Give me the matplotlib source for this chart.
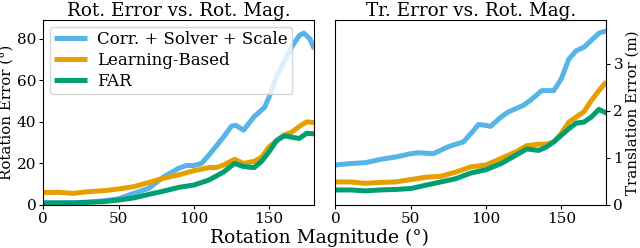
import matplotlib
matplotlib.use("Agg")
import matplotlib.pyplot as plt

plt.rcParams['font.family'] = ['DejaVu Serif']

labels = ["Corr. + Solver + Scale", "Learning-Based", "FAR"]
colors = ["#56B4E9", "#E69F00", "#009E73"]

# Left panel: rotation error vs rotation magnitude
rot_x_blue = [0, 10, 20, 30, 40, 50, 60, 70, 80, 90, 95, 100, 105, 110, 120, 125, 128, 133, 140, 147, 150, 155, 160, 165, 170, 173, 177, 180]
rot_blue = [1.0, 1.0, 1.1, 1.4, 2.0, 3.0, 5.6, 8.0, 13.6, 17.7, 19.0, 19.0, 20.0, 24.0, 33.0, 38.0, 38.3, 36.0, 42.5, 47.0, 52.0, 62.0, 69.0, 76.0, 81.5, 82.7, 80.0, 75.0]
rot_x_orange = [0, 10, 20, 30, 40, 50, 60, 70, 80, 90, 100, 110, 115, 120, 127, 133, 140, 145, 150, 155, 160, 165, 170, 175, 180]
rot_orange = [6.0, 6.1, 5.6, 6.4, 6.9, 7.7, 8.8, 10.8, 12.9, 14.5, 16.5, 18.0, 18.0, 19.3, 22.0, 20.0, 21.0, 23.0, 28.0, 31.0, 33.7, 35.0, 37.8, 40.0, 39.6]
rot_x_green = [0, 10, 20, 30, 40, 50, 60, 70, 80, 90, 100, 110, 120, 127, 133, 140, 145, 150, 155, 160, 165, 170, 175, 180]
rot_green = [1.0, 1.0, 1.0, 1.3, 1.6, 2.4, 3.4, 5.1, 6.7, 8.5, 9.6, 12.0, 16.0, 20.0, 18.5, 18.0, 21.0, 25.7, 31.0, 33.3, 32.6, 32.0, 34.5, 34.2]

# Right panel: translation error vs rotation magnitude
tr_x_blue = [0, 10, 20, 30, 40, 50, 55, 65, 75, 85, 90, 95, 100, 103, 110, 115, 125, 130, 137, 145, 150, 155, 160, 165, 170, 175, 180]
tr_blue = [0.85, 0.88, 0.90, 0.97, 1.02, 1.09, 1.11, 1.09, 1.24, 1.34, 1.52, 1.71, 1.69, 1.67, 1.87, 1.98, 2.12, 2.24, 2.43, 2.43, 2.68, 3.10, 3.28, 3.35, 3.50, 3.65, 3.70]
tr_x_orange = [0, 10, 20, 30, 40, 50, 60, 70, 80, 90, 100, 110, 120, 127, 135, 140, 145, 150, 155, 160, 165, 170, 175, 180]
tr_orange = [0.49, 0.49, 0.46, 0.48, 0.49, 0.54, 0.59, 0.61, 0.70, 0.81, 0.85, 0.99, 1.13, 1.26, 1.29, 1.29, 1.34, 1.52, 1.76, 1.87, 1.98, 2.22, 2.43, 2.62]
tr_x_green = [0, 10, 20, 30, 40, 50, 60, 70, 80, 90, 100, 110, 120, 127, 135, 140, 145, 150, 155, 160, 165, 170, 175, 180]
tr_green = [0.32, 0.32, 0.30, 0.32, 0.33, 0.35, 0.42, 0.49, 0.56, 0.68, 0.75, 0.88, 1.06, 1.19, 1.16, 1.23, 1.34, 1.48, 1.62, 1.74, 1.76, 1.87, 2.03, 1.95]

x_ticks = [0, 50, 100, 150]

fig = plt.figure(figsize=(6.4, 2.48), dpi=100)
ax1 = fig.add_axes([0.0677, 0.1734, 0.4234, 0.746])
ax2 = fig.add_axes([0.5242, 0.1734, 0.4234, 0.746])

lw = 3.6
for xs, ys, c, l in [(rot_x_blue, rot_blue, colors[0], labels[0]),
                     (rot_x_orange, rot_orange, colors[1], labels[1]),
                     (rot_x_green, rot_green, colors[2], labels[2])]:
    ax1.plot(xs, ys, color=c, lw=lw, label=l, solid_capstyle='butt', solid_joinstyle='round')
for xs, ys, c in [(tr_x_blue, tr_blue, colors[0]),
                  (tr_x_orange, tr_orange, colors[1]),
                  (tr_x_green, tr_green, colors[2])]:
    ax2.plot(xs, ys, color=c, lw=lw, solid_capstyle='butt', solid_joinstyle='round')

ax1.set_xlim(0, 180)
ax1.set_ylim(0, 89)
ax1.set_xticks(x_ticks)
ax1.set_yticks([0, 20, 40, 60, 80])
ax1.set_title("Rot. Error vs. Rot. Mag.", fontsize=13.2, pad=3)
ax1.set_ylabel("Rotation Error (°)", fontsize=10.8, labelpad=2)
ax1.legend(loc='upper left', fontsize=12, handlelength=2.0, handletextpad=0.6,
           borderpad=0.25, borderaxespad=0.4, labelspacing=0.25, framealpha=0.8)

ax2.set_xlim(0, 180)
ax2.set_ylim(0, 3.93)
ax2.set_xticks(x_ticks)
ax2.set_yticks([0, 1, 2, 3])
ax2.yaxis.tick_right()
ax2.yaxis.set_label_position('right')
ax2.set_title("Tr. Error vs. Rot. Mag.", fontsize=13.2, pad=3)
ax2.set_ylabel("Translation Error (m)", fontsize=10.8, labelpad=2)

for ax in (ax1, ax2):
    ax.tick_params(labelsize=11, length=3, pad=2)

fig.text(0.5, 0.005, "Rotation Magnitude (°)", ha='center', va='bottom', fontsize=13.5)

fig.savefig("out.png", dpi=100)
